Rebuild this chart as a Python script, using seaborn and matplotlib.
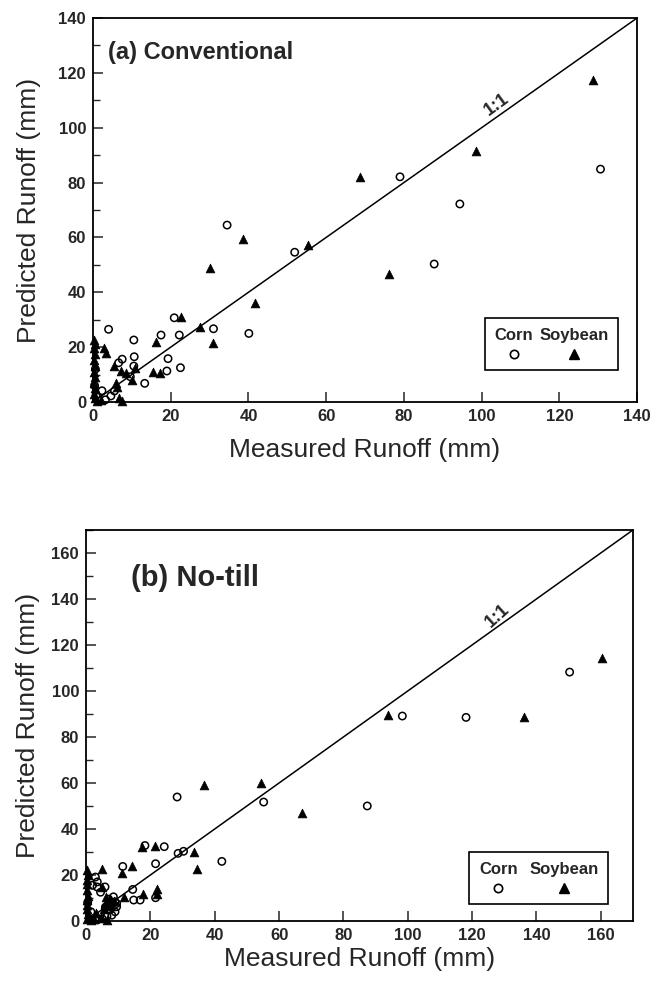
import matplotlib
matplotlib.use("Agg")
import matplotlib.pyplot as plt
import seaborn as sns
from matplotlib.lines import Line2D
from matplotlib.offsetbox import VPacker
from matplotlib.ticker import MultipleLocator

# (a) Conventional tillage: measured vs predicted runoff (mm)
conv_corn_x = [34.5, 51.9, 4.0, 20.9, 17.5, 22.2, 31.0, 40.1, 10.5, 10.6, 7.5, 6.6, 19.3,
               22.5, 19.0, 10.5, 9.6, 13.3, 2.3, 4.6, 1.3, 3.2, 79.0, 94.4, 87.8, 130.6,
               0.6, 0.4, 0.8, 5.5]
conv_corn_y = [64.5, 54.6, 26.5, 30.7, 24.4, 24.4, 26.7, 25.0, 22.6, 16.5, 15.6, 14.3, 15.8,
               12.5, 11.3, 13.1, 9.2, 6.8, 4.1, 2.2, 1.7, 0.8, 82.1, 72.2, 50.3, 84.9,
               12.0, 6.0, 2.5, 4.0]
conv_soy_x = [128.6, 98.5, 68.6, 55.2, 76.1, 38.6, 30.2, 41.8, 27.6, 22.7, 30.9, 16.2, 2.7,
              3.3, 5.3, 7.3, 8.5, 10.9, 10.0, 15.4, 17.3, 6.2, 5.9, 6.6, 7.5,
              0.3, 0.5, 0.2, 0.4, 0.3, 0.5, 0.2, 0.4, 0.3, 0.5, 0.2, 0.6, 1.0, 2.0]
conv_soy_y = [117.4, 91.6, 82.0, 57.2, 46.7, 59.3, 48.7, 36.2, 27.5, 31.1, 21.4, 22.0, 19.6,
              18.0, 13.1, 11.3, 10.6, 12.3, 8.0, 11.0, 10.5, 5.6, 7.0, 1.3, 0.3,
              22.6, 21.0, 19.8, 17.5, 15.3, 13.0, 11.0, 9.0, 7.0, 5.0, 3.0, 1.5, 0.4, 0.8]

# (b) No-till
nt_corn_x = [28.3, 55.2, 87.4, 18.3, 24.3, 28.6, 30.3, 42.2, 21.6, 11.4, 14.5, 14.8, 16.8,
             21.6, 2.9, 3.4, 5.9, 9.5, 9.0, 98.3, 118.1, 150.3,
             2.0, 3.5, 4.5, 7.0, 8.5, 9.0, 9.5, 8.0, 6.5, 5.0, 3.5, 7.5, 6.0, 1.5, 0.5]
nt_corn_y = [53.9, 51.7, 50.0, 32.8, 32.3, 29.4, 30.3, 25.9, 24.9, 23.7, 13.7, 9.1, 9.1,
             10.1, 19.1, 14.8, 14.8, 7.6, 4.0, 89.1, 88.5, 108.2,
             15.5, 17.0, 12.5, 9.5, 10.5, 8.3, 6.2, 2.5, 2.0, 1.0, 0.5, 5.0, 6.0, 4.0, 8.0]
nt_soy_x = [160.5, 136.2, 93.9, 67.2, 54.3, 36.6, 17.5, 21.4, 33.7, 34.4, 14.4, 11.1, 4.9,
            21.9, 21.9, 17.8, 11.9, 4.9, 6.3, 7.5, 8.8, 6.0, 7.8, 5.5, 3.0, 4.5, 6.5,
            0.3, 0.5, 0.2, 0.4, 0.3, 0.5, 0.2, 0.4, 0.3, 0.5, 0.2, 1.5, 2.5]
nt_soy_y = [114.2, 88.5, 89.5, 47.1, 59.8, 59.3, 32.0, 32.8, 30.2, 22.7, 23.7, 20.8, 22.7,
            14.1, 11.9, 11.9, 10.6, 14.8, 10.5, 9.5, 8.5, 7.5, 6.5, 5.0, 3.5, 1.5, 0.5,
            22.0, 20.0, 18.0, 16.0, 13.5, 11.0, 9.0, 7.0, 5.0, 3.0, 1.0, 0.5, 1.0]

legend_labels = ["Corn", "Soybean"]
x_label = "Measured Runoff (mm)"
y_label = "Predicted Runoff (mm)"

sns.set_style("ticks")
plt.rcParams["font.family"] = ["Liberation Sans", "DejaVu Sans"]

fig = plt.figure(figsize=(6.57, 9.85), dpi=100)


def draw_panel(ax, corn_x, corn_y, soy_x, soy_y, lim, title, title_size, title_xy,
               one_xy, one_rot, leg_anchor, col_space, xlab_y, ylab_x):
    ax.axline((0, 0), slope=1, color="black", lw=1.1, zorder=1)
    sns.scatterplot(x=corn_x, y=corn_y, marker="o", s=28, facecolors="none",
                    edgecolor="black", linewidth=1.1, ax=ax, zorder=3, clip_on=False)
    sns.scatterplot(x=soy_x, y=soy_y, marker="^", s=40, color="black",
                    edgecolor="black", linewidth=0.5, ax=ax, zorder=3, clip_on=False)
    ax.set_xlim(0, lim)
    ax.set_ylim(0, lim)
    ax.xaxis.set_major_locator(MultipleLocator(20))
    ax.yaxis.set_major_locator(MultipleLocator(20))
    ax.yaxis.set_minor_locator(MultipleLocator(10))
    ax.tick_params(axis="both", which="major", direction="in", length=7, width=1.1,
                   labelsize=12, pad=5, top=False, right=False)
    ax.tick_params(axis="y", which="minor", direction="in", length=5, width=1.0)
    for lab in ax.get_xticklabels() + ax.get_yticklabels():
        lab.set_fontweight("bold")
    for sp in ax.spines.values():
        sp.set_linewidth(1.3)
        sp.set_color("black")
    ax.set_xlabel(x_label, fontsize=19)
    ax.set_ylabel(y_label, fontsize=19)
    ax.xaxis.set_label_coords(0.5, xlab_y)
    ax.yaxis.set_label_coords(ylab_x, 0.5)
    ax.text(title_xy[0], title_xy[1], title, transform=ax.transAxes, fontsize=title_size,
            fontweight="bold", ha="left", va="center")
    ax.text(one_xy[0], one_xy[1], "1:1", fontsize=13, fontweight="bold", rotation=one_rot,
            ha="center", va="center", rotation_mode="anchor")

    handles = [Line2D([], [], ls="none", marker="o", ms=6, mfc="none", mec="black", mew=1.2),
               Line2D([], [], ls="none", marker="^", ms=7, color="black")]
    leg = ax.legend(handles, legend_labels, ncol=2, loc="lower left",
                    bbox_to_anchor=leg_anchor, borderaxespad=0, frameon=True,
                    fancybox=False, edgecolor="black", framealpha=1, handlelength=1.0,
                    columnspacing=col_space, borderpad=0.6, handletextpad=0.1,
                    prop=dict(weight="bold", size=12))
    leg.get_frame().set_linewidth(1.2)
    # stack each label above its marker, as in the original figure
    for col in leg._legend_handle_box.get_children():
        for item in col.get_children():
            handle_area, text_area = item.get_children()
            item.__class__ = VPacker
            item._children = [text_area, handle_area]
            item.align = "center"
            item.sep = 4


ax_a = fig.add_axes([0.1416, 0.5919, 0.8280, 0.3898])
draw_panel(ax_a, conv_corn_x, conv_corn_y, conv_soy_x, conv_soy_y, 140,
           "(a) Conventional", 17, (0.028, 0.911), (104, 108.5), 36,
           (0.72, 0.083), 0.35, -0.095, -0.095)

ax_b = fig.add_axes([0.131, 0.065, 0.8325, 0.397])
draw_panel(ax_b, nt_corn_x, nt_corn_y, nt_soy_x, nt_soy_y, 170,
           "(b) No-till", 21, (0.083, 0.877), (128, 132.5), 42,
           (0.70, 0.043), 0.7, -0.066, -0.085)

fig.savefig("out.png", dpi=100)
